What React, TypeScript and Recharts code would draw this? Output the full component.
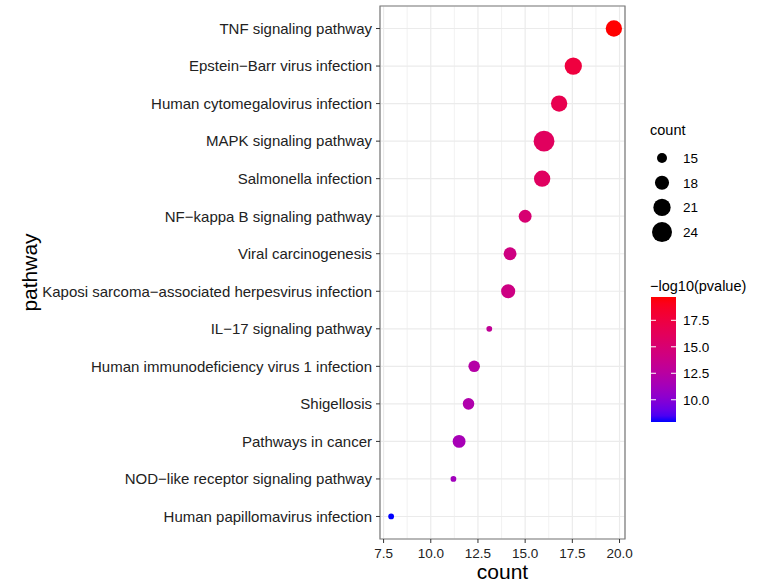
import {
  ScatterChart,
  Scatter,
  XAxis,
  YAxis,
  ZAxis,
  CartesianGrid,
  ReferenceArea,
  Cell,
} from "recharts";

// ---------------------------------------------------------------------------
// Data (top row first)
// ---------------------------------------------------------------------------

const pathways = [
  "TNF signaling pathway",
  "Epstein−Barr virus infection",
  "Human cytomegalovirus infection",
  "MAPK signaling pathway",
  "Salmonella infection",
  "NF−kappa B signaling pathway",
  "Viral carcinogenesis",
  "Kaposi sarcoma−associated herpesvirus infection",
  "IL−17 signaling pathway",
  "Human immunodeficiency virus 1 infection",
  "Shigellosis",
  "Pathways in cancer",
  "NOD−like receptor signaling pathway",
  "Human papillomavirus infection",
];

const xValues = [19.7, 17.55, 16.8, 16.0, 15.9, 15.0, 14.2, 14.1, 13.1, 12.3, 12.0, 11.5, 11.2, 7.9];
const counts = [20, 21, 20, 25, 20, 17, 17, 18, 13, 16, 16, 17, 13, 13];
const logP = [19.7, 17.55, 16.8, 16.0, 15.9, 15.0, 14.2, 14.1, 13.1, 12.3, 12.0, 11.5, 11.2, 7.9];

const xTicks = [7.5, 10, 12.5, 15, 17.5, 20];
const xMinorTicks = [8.75, 11.25, 13.75, 16.25, 18.75];
const sizeLegend = [15, 18, 21, 24];
const colorLegend = [10, 12.5, 15, 17.5];

// ---------------------------------------------------------------------------
// Scales / helpers
// ---------------------------------------------------------------------------

const FONT = "'Liberation Sans', Arial, sans-serif";

const xMin = Math.min(...xValues);
const xMax = Math.max(...xValues);
const xPad = (xMax - xMin) * 0.05;
const xDomain: [number, number] = [xMin - xPad, xMax + xPad];

const nRows = pathways.length;
const yDomain: [number, number] = [0.4, nRows + 0.6];
const rowTicks = pathways.map((_p, i) => nRows - i);

// size: area linear in count
const countDomain: [number, number] = [13, 25];
const areaRange: [number, number] = [26, 340];
function areaOf(c: number) {
  const t = (c - countDomain[0]) / (countDomain[1] - countDomain[0]);
  return areaRange[0] + t * (areaRange[1] - areaRange[0]);
}

// colour: blue -> red interpolated in Lab, like ggplot
const pMin = Math.min(...logP);
const pMax = Math.max(...logP);

function srgbToLab(hex: string): [number, number, number] {
  const c = [1, 3, 5].map((i) => parseInt(hex.slice(i, i + 2), 16) / 255).map((v) =>
    v <= 0.04045 ? v / 12.92 : Math.pow((v + 0.055) / 1.055, 2.4)
  );
  const X = (0.4124 * c[0] + 0.3576 * c[1] + 0.1805 * c[2]) / 0.95047;
  const Y = 0.2126 * c[0] + 0.7152 * c[1] + 0.0722 * c[2];
  const Z = (0.0193 * c[0] + 0.1192 * c[1] + 0.9505 * c[2]) / 1.08883;
  const f = (t: number) => (t > 0.008856 ? Math.cbrt(t) : 7.787 * t + 16 / 116);
  return [116 * f(Y) - 16, 500 * (f(X) - f(Y)), 200 * (f(Y) - f(Z))];
}

function labToHex(L: number, a: number, b: number): string {
  const fy = (L + 16) / 116;
  const fx = fy + a / 500;
  const fz = fy - b / 200;
  const inv = (t: number) => (t * t * t > 0.008856 ? t * t * t : (t - 16 / 116) / 7.787);
  const X = inv(fx) * 0.95047;
  const Y = inv(fy);
  const Z = inv(fz) * 1.08883;
  const lin = [
    3.2406 * X - 1.5372 * Y - 0.4986 * Z,
    -0.9689 * X + 1.8758 * Y + 0.0415 * Z,
    0.0557 * X - 0.204 * Y + 1.057 * Z,
  ];
  return (
    "#" +
    lin
      .map((v) => (v <= 0.0031308 ? 12.92 * v : 1.055 * Math.pow(Math.max(v, 0), 1 / 2.4) - 0.055))
      .map((v) => Math.round(Math.min(1, Math.max(0, v)) * 255).toString(16).padStart(2, "0"))
      .join("")
  );
}

const LOW = srgbToLab("#0000ff");
const HIGH = srgbToLab("#ff0000");
function colorOf(v: number) {
  const t = (v - pMin) / (pMax - pMin);
  return labToHex(
    LOW[0] + t * (HIGH[0] - LOW[0]),
    LOW[1] + t * (HIGH[1] - LOW[1]),
    LOW[2] + t * (HIGH[2] - LOW[2])
  );
}

const data = pathways.map((p, i) => ({
  pathway: p,
  x: xValues[i],
  rank: nRows - i,
  count: counts[i],
  logp: logP[i],
}));

// ---------------------------------------------------------------------------
// Legends
// ---------------------------------------------------------------------------

const BAR_TOP = 297;
const BAR_H = 125;
const barY = (v: number) => BAR_TOP + BAR_H - ((v - pMin) / (pMax - pMin)) * BAR_H;

function Legends() {
  const stops = Array.from({ length: 21 }, (_v, i) => i / 20);
  return (
    <svg width={764} height={585} style={{ position: "absolute", left: 0, top: 0, pointerEvents: "none" }}>
      <text x={650} y={135} fontSize={14.5} fill="#000" fontFamily={FONT}>count</text>
      {sizeLegend.map((c, i) => {
        const cy = 158 + i * 24.7;
        return (
          <g key={c}>
            <circle cx={662} cy={cy} r={Math.sqrt(areaOf(c) / Math.PI)} fill="#000" />
            <text x={683} y={cy + 5} fontSize={13.5} fill="#000" fontFamily={FONT}>{c}</text>
          </g>
        );
      })}

      <text x={650} y={291} fontSize={14.5} fill="#000" fontFamily={FONT}>−log10(pvalue)</text>
      <defs>
        <linearGradient id="pgrad" x1="0" y1="1" x2="0" y2="0">
          {stops.map((s) => (
            <stop key={s} offset={s} stopColor={colorOf(pMin + s * (pMax - pMin))} />
          ))}
        </linearGradient>
      </defs>
      <rect x={651} y={BAR_TOP} width={25} height={BAR_H} fill="url(#pgrad)" />
      {colorLegend.map((v) => {
        const y = barY(v);
        return (
          <g key={v}>
            <line x1={651} x2={656} y1={y} y2={y} stroke="#fff" strokeWidth={1} />
            <line x1={671} x2={676} y1={y} y2={y} stroke="#fff" strokeWidth={1} />
            <text x={683} y={y + 5} fontSize={13.5} fill="#000" fontFamily={FONT}>{v.toFixed(1)}</text>
          </g>
        );
      })}
    </svg>
  );
}

// ---------------------------------------------------------------------------
// Component
// ---------------------------------------------------------------------------

export default function App() {
  return (
    <div
      style={{
        position: "absolute",
        left: 0,
        top: 0,
        width: 764,
        height: 585,
        background: "#fff",
        fontFamily: FONT,
      }}
    >
      <ScatterChart width={764} height={585} margin={{ top: 6, right: 139, bottom: 0, left: 0 }}>
        <CartesianGrid
          horizontal={false}
          verticalValues={xMinorTicks}
          stroke="#f0f0f0"
          strokeWidth={0.9}
        />
        <CartesianGrid stroke="#ebebeb" strokeWidth={1.2} />
        <XAxis
          type="number"
          dataKey="x"
          domain={xDomain}
          ticks={xTicks}
          allowDataOverflow
          tickFormatter={(v: number) => v.toFixed(1)}
          height={46}
          tickSize={4}
          tickMargin={5}
          axisLine={false}
          tickLine={{ stroke: "#333" }}
          tick={{ fontSize: 13.5, fill: "#222", fontFamily: FONT }}
          label={{ value: "count", position: "insideBottom", offset: 6, fontSize: 21, fill: "#000", fontFamily: FONT }}
        />
        <YAxis
          type="number"
          dataKey="rank"
          domain={yDomain}
          ticks={rowTicks}
          allowDataOverflow
          tickFormatter={(v: number) => pathways[nRows - v]}
          width={380}
          tickSize={4}
          tickMargin={4}
          axisLine={false}
          tickLine={{ stroke: "#333" }}
          tick={{ fontSize: 15, fill: "#222", fontFamily: FONT }}
          interval={0}
          label={{
            value: "pathway",
            angle: -90,
            position: "insideLeft",
            offset: 30,
            fontSize: 21,
            fill: "#000",
            fontFamily: FONT,
            style: { textAnchor: "middle" },
          }}
        />
        <ZAxis type="number" dataKey="count" domain={countDomain} range={areaRange} />
        <ReferenceArea
          x1={xDomain[0]}
          x2={xDomain[1]}
          y1={yDomain[0]}
          y2={yDomain[1]}
          fill="none"
          stroke="#7a7a7a"
          strokeWidth={1.2}
          ifOverflow="visible"
        />
        <Scatter data={data} isAnimationActive={false}>
          {data.map((d, i) => (
            <Cell key={i} fill={colorOf(d.logp)} />
          ))}
        </Scatter>
      </ScatterChart>
      <Legends />
    </div>
  );
}
